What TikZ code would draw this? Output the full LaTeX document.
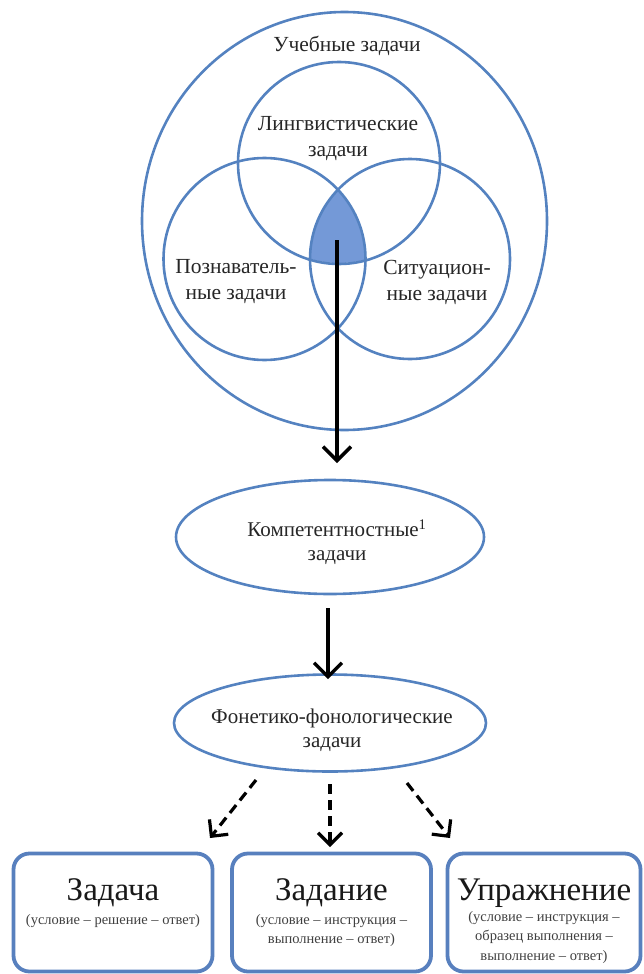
\documentclass[tikz,border=0pt]{standalone}
\usepackage{fontspec}
\setmainfont{Liberation Serif}
\usetikzlibrary{shapes.geometric,arrows.meta}
\definecolor{ringblue}{RGB}{84,130,192}
\definecolor{fillblue}{RGB}{116,153,215}
\definecolor{boxblue}{RGB}{88,128,190}
\tikzset{
  ring/.style={draw=ringblue,line width=2.6pt,circle,inner sep=0pt},
  oval/.style={draw=ringblue,line width=2.6pt,ellipse,inner sep=0pt},
  lbl/.style={font=\fontsize{21.5}{26}\selectfont,align=center,text=black!85,inner sep=0pt},
  olbl/.style={font=\fontsize{21}{24}\selectfont,align=center,text=black!85,inner sep=0pt},
  card/.style={draw=boxblue,line width=3.8pt,rounded corners=16pt,inner sep=0pt},
  ttl/.style={font=\fontsize{33}{36}\selectfont,inner sep=0pt,text=black!90},
  sub/.style={font=\fontsize{14.5}{19.5}\selectfont,align=center,inner sep=0pt,text=black!75},
  bigarrow/.style={line width=3.4pt,-{Straight Barb[length=14pt,width=28pt,line width=3.4pt]}},
  dasharrow/.style={line width=3.2pt,dash pattern=on 10pt off 6pt,-{Straight Barb[length=12pt,width=24pt,line width=3.2pt]}}
}
\begin{document}
\begin{tikzpicture}[x=1pt,y=-1pt]
\useasboundingbox (0,0) rectangle (643,974);
% shaded intersection
\begin{scope}
  \clip (264.5,259) circle (101pt);
  \clip (410,259) circle (100pt);
  \fill[fillblue] (339,163) circle (100pt);
\end{scope}
\node[oval,minimum width=405pt,minimum height=418pt] (outer) at (344.5,221) {};
\node[ring,minimum size=202pt] (ling) at (339,163) {};
\node[ring,minimum size=202pt] (pozn) at (264.5,259) {};
\node[ring,minimum size=200pt] (sit) at (410,259) {};
\node[lbl] (tOuter) at (347,46) {Учебные задачи};
\node[lbl] (tLing) at (338,139) {Лингвистические\\задачи};
\node[lbl] (tPozn) at (236,282) {Познаватель-\\ные задачи};
\node[lbl] (tSit) at (437,282) {Ситуацион-\\ные задачи};
\coordinate (core) at (337,240);
% competence ellipse
\node[oval,minimum width=308pt,minimum height=114pt] (comp) at (330,537) {};
\node[olbl] (tComp) at (337,542) {Компетентностные\textsuperscript{1}\\задачи};
% phonetic ellipse
\node[oval,minimum width=312pt,minimum height=97pt] (phon) at (330,723) {};
\node[olbl] (tPhon) at (332,730) {Фонетико-фонологические\\задачи};
% arrows
\draw[bigarrow] (core) -- (337,463);
\draw[bigarrow] ([xshift=-2pt,yshift=-13pt]comp.south) -- ([xshift=-2pt,yshift=-6pt]phon.north);
\coordinate (dl0) at (256,780);
\coordinate (dl1) at (210,838);
\coordinate (dm0) at (330,784);
\coordinate (dm1) at (330,847);
\coordinate (dr0) at (407,783);
\coordinate (dr1) at (450,838);
\draw[dasharrow] (dl0) -- (dl1);
\draw[dasharrow] (dm0) -- (dm1);
\draw[dasharrow] (dr0) -- (dr1);
% boxes
\node[card,minimum width=199pt,minimum height=118pt] (b1) at (113,912.5) {};
\node[card,minimum width=199pt,minimum height=118pt] (b2) at (331.5,912.5) {};
\node[card,minimum width=193pt,minimum height=118pt] (b3) at (544,912.5) {};
\node[ttl] (t1) at (113,893) {Задача};
\node[sub] (s1) at (113,921) {(условие – решение – ответ)};
\node[ttl] (t2) at (331.5,893) {Задание};
\node[sub,anchor=north] (s2) at (331.5,914) {(условие – инструкция –\\выполнение – ответ)};
\node[ttl] (t3) at (544,893) {Упражнение};
\node[sub,anchor=north] (s3) at (544,911) {(условие – инструкция –\\образец выполнения –\\выполнение – ответ)};
\end{tikzpicture}
\end{document}
